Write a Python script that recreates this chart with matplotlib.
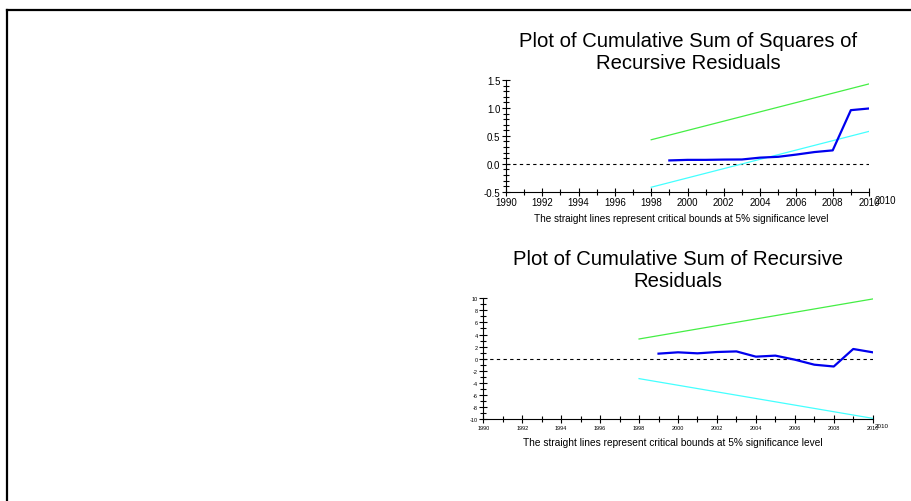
import matplotlib
matplotlib.use('Agg')
import matplotlib.pyplot as plt
from matplotlib.lines import Line2D
from matplotlib.ticker import MultipleLocator

plt.rcParams['font.family'] = ['Liberation Sans', 'DejaVu Sans']
plt.rcParams['axes.unicode_minus'] = False

years = [1999, 2000, 2001, 2002, 2003, 2004, 2005, 2006, 2007, 2008, 2009, 2010]
cusumsq = [0.06, 0.07, 0.07, 0.075, 0.077, 0.11, 0.125, 0.165, 0.21, 0.24, 0.96, 0.99]
cusum = [0.83, 1.05, 0.88, 1.1, 1.2, 0.33, 0.5, -0.17, -1.0, -1.3, 1.6, 1.05]

bound_years = [1998, 2010]
sq_upper = [0.43, 1.43]
sq_lower = [-0.42, 0.58]
cs_upper = [3.26, 9.89]
cs_lower = [-3.31, -9.89]

xtick_years = [1990, 1992, 1994, 1996, 1998, 2000, 2002, 2004, 2006, 2008, 2010]
sq_yticks = [-0.5, 0.0, 0.5, 1.0, 1.5]
cs_yticks = [-10, -8, -6, -4, -2, 0, 2, 4, 6, 8, 10]

W, H = 912, 502
fig = plt.figure(figsize=(W / 100, H / 100), dpi=100)


def px_axes(left, top, right, bottom):
    return fig.add_axes([left / W, 1 - bottom / H, (right - left) / W, (bottom - top) / H])


def style(ax, fs, ylim, yticks, ylabels, yminor):
    ax.set_xlim(1990, 2010)
    ax.set_ylim(*ylim)
    for s in ['top', 'right']:
        ax.spines[s].set_visible(False)
    for s in ['left', 'bottom']:
        ax.spines[s].set_linewidth(0.8)
    ax.set_xticks(xtick_years)
    ax.set_xticklabels([str(y) for y in xtick_years], fontsize=fs)
    ax.xaxis.set_minor_locator(MultipleLocator(1))
    ax.set_yticks(yticks)
    ax.set_yticklabels(ylabels, fontsize=fs)
    ax.yaxis.set_minor_locator(MultipleLocator(yminor))
    ax.tick_params(which='major', direction='inout', length=6, width=0.8, pad=1)
    ax.tick_params(which='minor', direction='inout', length=4, width=0.8)
    ax.patch.set_alpha(0)


# top panel: CUSUM of squares
ax1 = px_axes(506, 81, 869, 192.7)
ax1.axhline(0, color='black', ls=(0, (3, 3)), lw=0.8)
ax1.plot(bound_years, sq_upper, color='#44ee44', lw=0.9)
ax1.plot(bound_years, sq_lower, color='#44ffff', lw=0.9)
ax1.plot(years, cusumsq, color='#0000ee', lw=1.6)
style(ax1, 7, (-0.5, 1.5), sq_yticks, ['%.1f' % v for v in sq_yticks], 0.1)
fig.text(688 / W, 1 - 32 / H, 'Plot of Cumulative Sum of Squares of\nRecursive Residuals',
         ha='center', va='top', fontsize=14.6, linespacing=1.22)
fig.text(681 / W, 1 - 219 / H, 'The straight lines represent critical bounds at 5% significance level',
         ha='center', va='center', fontsize=7.2)
fig.text(885 / W, 1 - 201 / H, '2010', ha='center', va='center', fontsize=7)

# bottom panel: CUSUM
ax2 = px_axes(483.3, 299.3, 872.7, 420)
ax2.axhline(0, color='black', ls=(0, (3, 3)), lw=0.8)
ax2.plot(bound_years, cs_upper, color='#44ee44', lw=0.9)
ax2.plot(bound_years, cs_lower, color='#44ffff', lw=0.9)
ax2.plot(years, cusum, color='#0000ee', lw=1.6)
style(ax2, 4, (-10, 10), cs_yticks, [str(v) for v in cs_yticks], 1)
fig.text(678 / W, 1 - 250 / H, 'Plot of Cumulative Sum of Recursive\nResiduals',
         ha='center', va='top', fontsize=14.6, linespacing=1.22)
fig.text(673 / W, 1 - 443 / H, 'The straight lines represent critical bounds at 5% significance level',
         ha='center', va='center', fontsize=7.3)
fig.text(882 / W, 1 - 427 / H, '2010', ha='center', va='center', fontsize=4.5)

# frame of the page
fig.add_artist(Line2D([7.5 / W, 1], [1 - 10.5 / H, 1 - 10.5 / H], color='black', lw=1.6))
fig.add_artist(Line2D([7.5 / W, 7.5 / W], [1 - 10.5 / H, 0], color='black', lw=1.6))

fig.savefig('out.png', dpi=100)
